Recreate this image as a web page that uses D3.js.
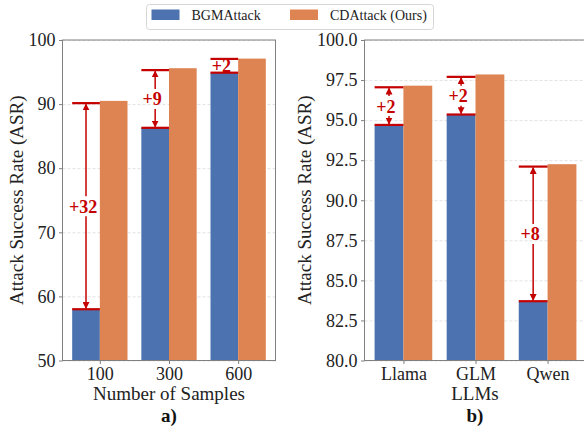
<!DOCTYPE html>
<html>
<head>
<meta charset="utf-8">
<script src="https://cdn.jsdelivr.net/npm/d3@7"></script>
<style>
  body { margin: 0; background: #fff; }
  .axis path, .axis line { stroke: #808080; }
  .grid line { stroke: #e2e2e2; stroke-dasharray: 3,2; }
  .grid path { display: none; }
</style>
</head>
<body>
<svg width="584" height="430"></svg>
<script>
// ---- data ----
var seriesNames = ['BGMAttack', 'CDAttack (Ours)'];
var seriesColors = ['#4c72b0', '#dd8452'];

// panel a) : number of samples
var sampleCats = ['100', '300', '600'];
var sampleBGM = [58.0, 86.3, 94.9];
var sampleCD = [90.5, 95.6, 97.1];
var sampleGapTop = [90.15, 95.3, 97.05];
var sampleGain = ['+32', '+9', '+2'];
var sampleTicks = [50, 60, 70, 80, 90, 100];

// panel b) : LLMs
var llmCats = ['Llama', 'GLM', 'Qwen'];
var llmBGM = [94.7, 95.35, 83.7];
var llmCD = [97.15, 97.85, 92.25];
var llmGapTop = [97.05, 97.7, 92.1];
var llmGain = ['+2', '+2', '+8'];
var llmTicks = [80, 82.5, 85, 87.5, 90, 92.5, 95, 97.5, 100];

var serif = '"Liberation Serif", "Times New Roman", Times, "DejaVu Serif", serif';
var svg = d3.select('svg').attr('font-family', serif);
var red = '#c40000';

// arrow head marker
svg.append('defs').append('marker')
    .attr('id', 'head')
    .attr('viewBox', '0 0 10 10')
    .attr('refX', 9).attr('refY', 5)
    .attr('markerWidth', 7).attr('markerHeight', 7)
    .attr('markerUnits', 'userSpaceOnUse')
    .attr('orient', 'auto')
    .append('path')
    .attr('d', 'M0,0 L10,5 L0,10 z')
    .attr('fill', red);

var plotTop = 40, plotBottom = 360.5;

function drawPanel(p) {
    var g = svg.append('g');
    var xScale = d3.scaleLinear().domain([-0.54, 2.54]).range([p.left, p.right]);
    var yScale = d3.scaleLinear().domain(p.yDomain).range([plotBottom, plotTop]);
    var half = xScale(0.4) - xScale(0);

    // grid
    g.append('g')
        .attr('class', 'grid')
        .attr('transform', 'translate(' + p.left + ',0)')
        .call(d3.axisLeft(yScale).tickValues(p.ticks).tickSize(-(p.right - p.left)).tickFormat(''));

    // bars
    var rows = p.cats.map(function(c, i) {
        return {i: i, cat: c, a: p.bgm[i], b: p.cd[i], top: p.gapTop[i], gain: p.gain[i]};
    });
    g.selectAll('.bar-a').data(rows).enter().append('rect')
        .attr('x', function(d) { return xScale(d.i) - half; })
        .attr('y', function(d) { return yScale(d.a); })
        .attr('width', half)
        .attr('height', function(d) { return yScale(p.yDomain[0]) - yScale(d.a); })
        .attr('fill', seriesColors[0]);
    g.selectAll('.bar-b').data(rows).enter().append('rect')
        .attr('x', function(d) { return xScale(d.i); })
        .attr('y', function(d) { return yScale(d.b); })
        .attr('width', half)
        .attr('height', function(d) { return yScale(p.yDomain[0]) - yScale(d.b); })
        .attr('fill', seriesColors[1]);

    // frame
    g.append('rect')
        .attr('x', p.left).attr('y', plotTop)
        .attr('width', p.right - p.left).attr('height', plotBottom - plotTop)
        .attr('fill', 'none').attr('stroke', '#808080');

    // axes
    var yAxis = d3.axisLeft(yScale).tickValues(p.ticks).tickSize(3.5).tickPadding(3.5)
        .tickFormat(p.fmt);
    var ya = g.append('g').attr('class', 'axis')
        .attr('transform', 'translate(' + p.left + ',0)')
        .call(yAxis);
    ya.select('.domain').remove();
    var xAxis = d3.axisBottom(xScale).tickValues([0, 1, 2]).tickSize(3.5).tickPadding(3.5)
        .tickFormat(function(d) { return p.cats[d]; });
    var xa = g.append('g').attr('class', 'axis')
        .attr('transform', 'translate(0,' + plotBottom + ')')
        .call(xAxis);
    xa.select('.domain').remove();
    g.selectAll('.axis').attr('font-family', serif).attr('font-size', 18);
    g.selectAll('.axis text').attr('fill', '#222');

    // gain annotations
    rows.forEach(function(d) {
        var x0 = xScale(d.i) - half, x1 = xScale(d.i), cx = (x0 + x1) / 2;
        var yTop = yScale(d.top), yBot = yScale(d.a), mid = (yTop + yBot) / 2;
        [yTop, yBot].forEach(function(y) {
            g.append('line').attr('x1', x0).attr('x2', x1).attr('y1', y).attr('y2', y)
                .attr('stroke', red).attr('stroke-width', 2.2);
        });
        if (mid - 10 - yTop > 4) {
            g.append('line').attr('x1', cx).attr('x2', cx).attr('y1', mid - 10).attr('y2', yTop + 1)
                .attr('stroke', red).attr('stroke-width', 1.5).attr('marker-end', 'url(#head)');
            g.append('line').attr('x1', cx).attr('x2', cx).attr('y1', mid + 10).attr('y2', yBot - 1)
                .attr('stroke', red).attr('stroke-width', 1.5).attr('marker-end', 'url(#head)');
        }
        g.append('text')
            .attr('x', cx - 3).attr('y', mid + 6.5)
            .attr('text-anchor', 'middle')
            .attr('font-family', serif).attr('font-size', 18).attr('font-weight', 'bold')
            .attr('fill', red)
            .text(d.gain);
    });

    // labels
    g.append('text')
        .attr('transform', 'translate(' + p.ylabelX + ',' + (plotTop + plotBottom) / 2 + ') rotate(-90)')
        .attr('text-anchor', 'middle').attr('font-size', 19).attr('fill', '#222')
        .attr('font-family', serif)
        .text('Attack Success Rate (ASR)');
    g.append('text')
        .attr('x', p.titleX).attr('y', 399.5)
        .attr('text-anchor', 'middle').attr('font-size', 19).attr('fill', '#222')
        .attr('font-family', serif)
        .text(p.xlabel);
    g.append('text')
        .attr('x', p.titleX).attr('y', 422)
        .attr('text-anchor', 'middle').attr('font-size', 19).attr('font-weight', 'bold').attr('fill', '#111')
        .attr('font-family', serif)
        .text(p.title);
}

drawPanel({
    left: 62.5, right: 275.5, yDomain: [50, 100], ticks: sampleTicks,
    fmt: d3.format('d'),
    cats: sampleCats, bgm: sampleBGM, cd: sampleCD, gapTop: sampleGapTop, gain: sampleGain,
    xlabel: 'Number of Samples', title: 'a)', ylabelX: 23, titleX: 169
});
drawPanel({
    left: 364.5, right: 586.5, yDomain: [80, 100], ticks: llmTicks,
    fmt: d3.format('.1f'),
    cats: llmCats, bgm: llmBGM, cd: llmCD, gapTop: llmGapTop, gain: llmGain,
    xlabel: 'LLMs', title: 'b)', ylabelX: 311, titleX: 475
});

// legend
var legend = svg.append('g');
legend.append('rect')
    .attr('x', 146.5).attr('y', 4.5).attr('width', 287).attr('height', 25).attr('rx', 3)
    .attr('fill', '#fff').attr('stroke', '#d6d6d6');
var legendX = [151.5, 290];
seriesNames.forEach(function(name, i) {
    legend.append('rect')
        .attr('x', legendX[i]).attr('y', 9.5).attr('width', 28).attr('height', 10.5)
        .attr('fill', seriesColors[i]);
    legend.append('text')
        .attr('x', legendX[i] + 40).attr('y', 20)
        .attr('font-family', serif)
        .attr('font-size', 14).attr('fill', '#222')
        .text(name);
});
</script>
</body>
</html>
